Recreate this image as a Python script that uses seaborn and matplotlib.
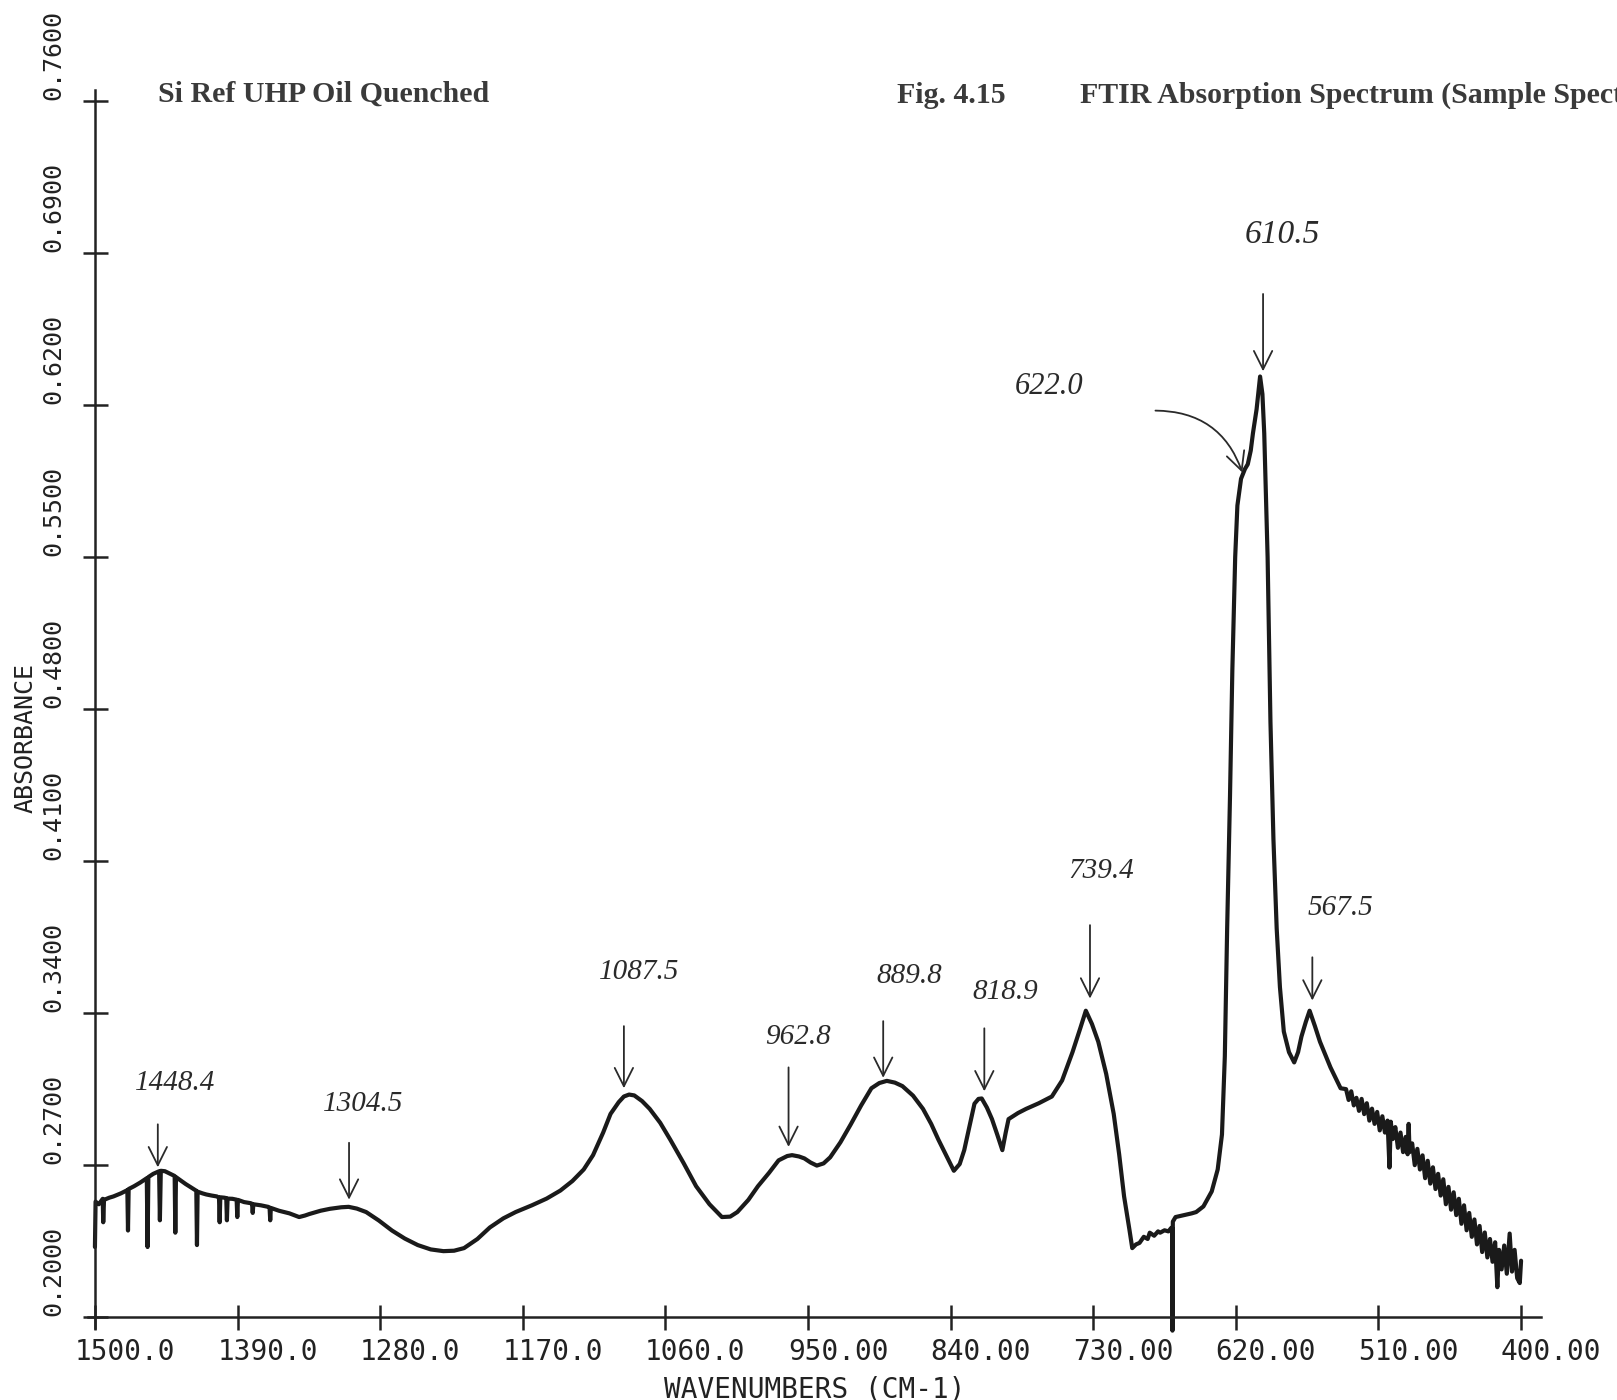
import pandas as pd
import seaborn as sns
import matplotlib.pyplot as plt
from matplotlib.transforms import ScaledTranslation

# spectrum (wavenumber in cm-1, absorbance)
wavenumber = [
    1500.0, 1499.5, 1497.0, 1494.0, 1493.6, 1493.0, 1489.0, 1485.7, 1480.0, 1475.0,
    1474.5, 1474.0, 1469.8, 1465.0, 1460.0, 1459.4, 1458.8, 1455.0, 1450.5, 1449.9,
    1449.2, 1446.0, 1441.9, 1438.5, 1438.0, 1437.5, 1434.0, 1430.0, 1426.0, 1421.8,
    1421.3, 1420.8, 1417.0, 1414.1, 1410.0, 1406.0, 1404.3, 1403.8, 1403.3, 1400.0,
    1398.7, 1398.2, 1397.7, 1394.0, 1390.7, 1390.2, 1389.7, 1385.0, 1380.0, 1378.8,
    1378.3, 1377.8, 1372.0, 1366.4, 1365.3, 1364.8, 1364.3, 1358.0, 1350.0, 1342.5,
    1338.0, 1334.6, 1326.0, 1318.7, 1310.0, 1304.3, 1298.0, 1290.8, 1281.0, 1270.9,
    1261.0, 1251.0, 1241.0, 1231.2, 1223.0, 1215.3, 1205.0, 1195.4, 1185.0, 1175.5,
    1163.0, 1151.6, 1141.0, 1131.7, 1123.0, 1115.8, 1108.0, 1102.3, 1096.0, 1092.0,
    1088.0, 1084.0, 1078.0, 1072.1, 1064.0, 1056.2, 1046.0, 1036.3, 1026.0, 1016.4,
    1010.0, 1004.5, 996.0, 988.6, 980.0, 972.7, 966.0, 962.3, 957.0, 952.8,
    948.0, 943.2, 938.0, 932.9, 925.0, 917.0, 909.0, 901.1, 895.0, 889.2,
    883.0, 877.2, 869.0, 861.3, 855.0, 849.4, 843.0, 837.5, 833.0, 829.5,
    825.0, 821.6, 818.5, 816.0, 812.0, 808.1, 804.0, 800.1, 797.5, 795.3,
    788.0, 781.8, 772.0, 761.9, 754.0, 746.0, 740.0, 735.7, 731.0, 726.1,
    720.0, 714.2, 710.0, 706.2, 702.0, 699.9, 697.0, 694.3, 691.0, 688.0,
    686.4, 683.0, 680.0, 678.4, 675.0, 672.0, 670.0, 669.2, 668.9, 668.6,
    666.5, 660.0, 654.0, 650.6, 645.0, 638.6, 634.0, 630.7, 628.5, 626.7,
    624.5, 622.7, 620.5, 618.8, 616.0, 613.0, 610.8, 608.5, 606.8, 604.0,
    601.3, 599.5, 598.1, 595.5, 593.3, 591.0, 588.5, 586.0, 583.0, 579.0,
    575.0, 572.0, 569.4, 566.0, 563.1, 559.0, 555.1, 547.0, 539.2,
]
absorbance = [
    0.2323, 0.2532, 0.2520, 0.2545, 0.2437, 0.2540, 0.2550, 0.2556, 0.2570, 0.2585,
    0.2399, 0.2590, 0.2603, 0.2620, 0.2640, 0.2323, 0.2645, 0.2660, 0.2672, 0.2446,
    0.2674, 0.2672, 0.2660, 0.2650, 0.2389, 0.2645, 0.2630, 0.2613, 0.2598, 0.2582,
    0.2332, 0.2578, 0.2570, 0.2565, 0.2560, 0.2556, 0.2550, 0.2437, 0.2552, 0.2550,
    0.2548, 0.2446, 0.2546, 0.2545, 0.2541, 0.2461, 0.2540, 0.2530, 0.2525, 0.2522,
    0.2480, 0.2520, 0.2515, 0.2508, 0.2505, 0.2446, 0.2503, 0.2490, 0.2478, 0.2461,
    0.2468, 0.2475, 0.2490, 0.2499, 0.2506, 0.2508, 0.2500, 0.2484, 0.2445, 0.2399,
    0.2362, 0.2332, 0.2312, 0.2304, 0.2306, 0.2318, 0.2360, 0.2413, 0.2455, 0.2484,
    0.2515, 0.2546, 0.2583, 0.2627, 0.2680, 0.2746, 0.2850, 0.2936, 0.2990, 0.3016,
    0.3025, 0.3021, 0.2995, 0.2959, 0.2895, 0.2817, 0.2710, 0.2603, 0.2520, 0.2461,
    0.2463, 0.2484, 0.2540, 0.2603, 0.2665, 0.2722, 0.2742, 0.2746, 0.2740, 0.2731,
    0.2712, 0.2698, 0.2708, 0.2736, 0.2805, 0.2888, 0.2975, 0.3054, 0.3078, 0.3088,
    0.3080, 0.3064, 0.3020, 0.2959, 0.2890, 0.2817, 0.2740, 0.2674, 0.2705, 0.2769,
    0.2890, 0.2983, 0.3005, 0.3007, 0.2965, 0.2912, 0.2840, 0.2769, 0.2850, 0.2912,
    0.2940, 0.2959, 0.2985, 0.3016, 0.3090, 0.3220, 0.3330, 0.3411, 0.3350, 0.3268,
    0.3120, 0.2936, 0.2750, 0.2556, 0.2400, 0.2318, 0.2335, 0.2342, 0.2370, 0.2360,
    0.2389, 0.2375, 0.2395, 0.2389, 0.2400, 0.2395, 0.2410, 0.2413, 0.1938, 0.2440,
    0.2461, 0.2470, 0.2478, 0.2484, 0.2510, 0.2579, 0.2680, 0.2841, 0.3200, 0.3790,
    0.4400, 0.4978, 0.5500, 0.5737, 0.5860, 0.5905, 0.5927, 0.5990, 0.6070, 0.6180,
    0.6331, 0.6250, 0.6070, 0.5500, 0.4740, 0.4200, 0.3790, 0.3520, 0.3315, 0.3220,
    0.3173, 0.3220, 0.3292, 0.3360, 0.3411, 0.3340, 0.3268, 0.3150, 0.3054,
]

# noisy low-wavenumber tail
tail_wavenumber = [
    535, 533, 531, 529, 527, 525, 523, 521, 519, 517, 515, 513, 511, 509, 507, 505, 503,
    501.5, 500.5,
    499, 497, 495, 493, 491, 489,
    487.5, 486.7, 486,
    484, 482, 480, 478, 476, 474, 472, 470, 468, 466, 464, 462, 460, 458, 456, 454, 452,
    450, 448, 446, 444, 442, 440, 438, 436, 434, 432, 430, 428, 426, 424, 422, 420,
    418.3, 417, 415, 413, 411,
    408.8, 407, 405, 403, 401, 400,
]
tail_absorbance = [
    0.3050, 0.3000, 0.3040, 0.2975, 0.3010, 0.2950, 0.3005, 0.2935, 0.2985, 0.2905,
    0.2960, 0.2890, 0.2945, 0.2860, 0.2925, 0.2850, 0.2905,
    0.2689, 0.2900,
    0.2820, 0.2875, 0.2780, 0.2850, 0.2760, 0.2830,
    0.2750, 0.2890, 0.2760,
    0.2800, 0.2700, 0.2775, 0.2680, 0.2745, 0.2640, 0.2720, 0.2615, 0.2690, 0.2590,
    0.2660, 0.2560, 0.2635, 0.2520, 0.2600, 0.2495, 0.2575,
    0.2470, 0.2545, 0.2430, 0.2515, 0.2400, 0.2480, 0.2370, 0.2450, 0.2335, 0.2420,
    0.2300, 0.2390, 0.2275, 0.2360, 0.2255, 0.2345,
    0.2138, 0.2310, 0.2220, 0.2330, 0.2200,
    0.2385, 0.2210, 0.2310, 0.2180, 0.2157, 0.2260,
]

x_ticks = [1500, 1390, 1280, 1170, 1060, 950, 840, 730, 620, 510, 400]
x_tick_labels = ["1500.0", "1390.0", "1280.0", "1170.0", "1060.0", "950.00",
                 "840.00", "730.00", "620.00", "510.00", "400.00"]
y_ticks = [0.20, 0.27, 0.34, 0.41, 0.48, 0.55, 0.62, 0.69, 0.76]
y_tick_labels = ["0.2000", "0.2700", "0.3400", "0.4100", "0.4800",
                 "0.5500", "0.6200", "0.6900", "0.7600"]

# handwritten peak marks: label, text position, arrow tail, arrow tip
peak_labels = ["1448.4", "1304.5", "1087.5", "962.8", "889.8", "818.9", "739.4", "610.5", "567.5"]
peak_text_xy = [(1438, 0.3078), (1293, 0.2983), (1080, 0.3591), (958, 0.3292), (872, 0.3572),
                (798, 0.3496), (724, 0.4052), (584, 0.6982), (539, 0.3885)]
peak_arrow_from = [(1451.5, 0.2888), (1304, 0.2803), (1092, 0.3340), (965, 0.3150), (892, 0.3363),
                   (814, 0.3330), (732.5, 0.3805), (599, 0.6711), (561, 0.3657)]
peak_arrow_to = [(1451.5, 0.2690), (1304, 0.2541), (1092, 0.3054), (965, 0.2784), (892, 0.3102),
                 (814, 0.3040), (732.5, 0.3467), (599, 0.6355), (561, 0.3458)]

shoulder_label = "622.0"
shoulder_text_xy = (764, 0.6284)
shoulder_arrow_from = (682, 0.6174)
shoulder_arrow_to = (615, 0.5889)

df = pd.DataFrame({"wavenumber": wavenumber + tail_wavenumber,
                   "absorbance": absorbance + tail_absorbance})

sns.set_style("ticks")
fig = plt.figure(figsize=(16.17, 14.0), dpi=100)
ax = fig.add_axes([0.0547, 0.0514, 0.898, 0.8843])

sns.lineplot(data=df, x="wavenumber", y="absorbance", sort=False, estimator=None,
             color="#1a1a1a", lw=3.0, ax=ax, clip_on=False)

ax.set_xlim(1505, 385)
ax.set_ylim(0.195, 0.765)
for side in ["top", "right"]:
    ax.spines[side].set_visible(False)
ax.spines["left"].set_position(("data", 1500))
ax.spines["bottom"].set_position(("data", 0.2))
for side in ["left", "bottom"]:
    ax.spines[side].set_linewidth(1.8)
    ax.spines[side].set_color("#222222")

mono = "DejaVu Sans Mono"
ax.set_xticks(x_ticks)
ax.set_xticklabels(x_tick_labels, fontfamily=mono, fontsize=20, color="#222222")
ax.set_yticks(y_ticks)
ax.set_yticklabels(y_tick_labels, fontfamily=mono, fontsize=18, color="#222222",
                   rotation=90, va="center")
ax.tick_params(axis="both", direction="inout", length=18, width=1.8, color="#222222")
ax.tick_params(axis="x", pad=6)
ax.tick_params(axis="y", pad=12)

# plotter prints each label starting at its tick rather than centred on it
x_shift = ScaledTranslation(0.30, 0, fig.dpi_scale_trans)
for lab in ax.get_xticklabels():
    lab.set_transform(lab.get_transform() + x_shift)
y_shift = ScaledTranslation(0, 0.46, fig.dpi_scale_trans)
for lab in ax.get_yticklabels():
    lab.set_transform(lab.get_transform() + y_shift)

ax.set_xlabel("WAVENUMBERS (CM-1)", fontfamily=mono, fontsize=20, color="#222222")
ax.xaxis.set_label_coords(0.5, -0.038)
ax.set_ylabel("ABSORBANCE", fontfamily=mono, fontsize=18, color="#222222")
ax.yaxis.set_label_coords(-0.035, 0.477)

hand = dict(fontfamily="Liberation Serif", style="italic", color="#2a2a2a", ha="center", va="center")
arrow = dict(arrowstyle="->,head_length=0.6,head_width=0.3", lw=1.3, color="#2a2a2a",
             shrinkA=0, shrinkB=0, mutation_scale=22)

for label, txy, a0, a1 in zip(peak_labels, peak_text_xy, peak_arrow_from, peak_arrow_to):
    size = 24 if label == "610.5" else 21
    ax.text(txy[0], txy[1], label, fontsize=size, **hand)
    ax.annotate("", xy=a1, xytext=a0, arrowprops=arrow)

ax.text(shoulder_text_xy[0], shoulder_text_xy[1], shoulder_label, fontsize=22, **hand)
ax.annotate("", xy=shoulder_arrow_to, xytext=shoulder_arrow_from,
            arrowprops=dict(arrow, connectionstyle="arc3,rad=-0.35"))

head = dict(fontfamily="Liberation Serif", fontweight="bold", fontsize=21.5, color="#3a3a3a", va="center")
fig.text(0.098, 0.933, "Si Ref UHP Oil Quenched", **head)
fig.text(0.555, 0.932, "Fig. 4.15", **head)
fig.text(0.668, 0.932, "FTIR Absorption Spectrum (Sample Spectrum)", **head)

fig.savefig("out.png", dpi=100)
